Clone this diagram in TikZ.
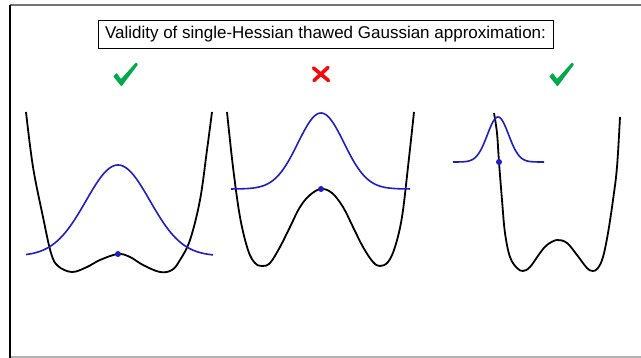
\documentclass[tikz,border=0pt]{standalone}
\usepackage{fontspec}
\setmainfont{Liberation Sans}
\definecolor{wblue}{RGB}{30,30,195}
\definecolor{okgreen}{RGB}{0,170,75}
\definecolor{badred}{RGB}{245,10,10}
\begin{document}
\begin{tikzpicture}[x=1pt,y=-1pt,
  pot/.style={line width=1.8pt,black,line join=round},
  wave/.style={line width=1.6pt,wblue,line join=round},
  centre/.style={fill=wblue,draw=none},
  framegray/.style={line width=1.3pt,black!55},
  titlebox/.style={draw,line width=0.9pt,minimum width=455pt,minimum height=28pt,inner sep=0pt,font=\fontsize{17}{19}\selectfont},
  checkmark/.pic={\fill[okgreen,rounded corners=0.6pt] (-11.7,1.5) -- (-8.3,-2) -- (-4,4) -- (11,-12.5) -- (13,-10.5) -- (-3.5,11.5) -- cycle;},
  crossmark/.pic={\draw[badred,line width=3.6pt,line cap=round] (-7.5,-6) -- (7.5,6.5) (7,-6.5) -- (-7,6.5);}
]
\useasboundingbox (0,0) rectangle (641,358);
% frame
\draw[framegray] (10,5) -- (641,5);
\draw[black!30,line width=1.3pt] (10,357) -- (641,357);
\draw[black,line width=1.4pt] (10,5) -- (10,358);
% title
\node[titlebox] (title) at (325.5,34) {Validity of single-Hessian thawed Gaussian approximation:};
% marks
\pic (ok1) at (125,75) {checkmark};
\pic (bad) at (321,74) {crossmark};
\pic (ok2) at (561,75) {checkmark};
% panel 1
\draw[pot] plot[smooth,tension=0.6] coordinates {(26,112) (33,167) (43,217) (51,253) (58,266) (72,272) (87,267) (100,260) (118,254) (130,257) (143,265) (160,272) (172,270) (180,260) (190,240) (200,200) (207,150) (212,112)};
\draw[wave] plot[domain=26:213,samples=90] (\x,{256-91*exp(-((\x-118)^2)/(2*32^2))});
\fill[centre] (118,254) circle (3);
% panel 2
\draw[pot] plot[smooth,tension=0.6] coordinates {(227,112) (233,167) (240,217) (248,250) (255,263) (262,266) (270,263) (280,247) (290,227) (300,207) (310,195) (321,189) (332,193) (343,207) (353,227) (363,247) (373,262) (380,266) (388,262) (395,247) (402,217) (408,167) (414,112)};
\draw[wave] plot[domain=231:410,samples=90] (\x,{189-76*exp(-((\x-321)^2)/(2*23^2))});
\fill[centre] (321,189) circle (3);
% panel 3
\draw[pot] plot[smooth,tension=0.6] coordinates {(494,113) (497,133) (499,162) (502,200) (505,233) (510,257) (517,268) (523,271) (530,267) (540,253) (547,245) (557,240) (567,243) (577,255) (587,268) (593,271) (598,268) (603,257) (608,233) (613,200) (617,167) (620,117)};
\draw[wave] plot[domain=453:544,samples=90] (\x,{162-45*exp(-((\x-498)^2)/(2*10.6^2))});
\fill[centre] (499,162) circle (3);
\end{tikzpicture}
\end{document}
